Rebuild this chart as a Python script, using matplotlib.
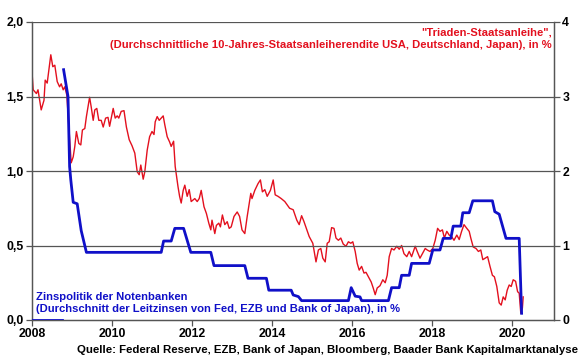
import numpy as np
import matplotlib
matplotlib.use('Agg')
import matplotlib.pyplot as plt
from matplotlib.ticker import FuncFormatter

# Triaden-Staatsanleihe (right axis, %)
bond_t = [2008.0, 2008.03, 2008.11, 2008.15, 2008.23, 2008.3, 2008.33, 2008.38, 2008.47, 2008.52,
          2008.57, 2008.63, 2008.69, 2008.73, 2008.78, 2008.82, 2008.87, 2008.9, 2008.94, 2008.98,
          2009.03, 2009.07, 2009.11, 2009.17, 2009.22, 2009.26, 2009.32, 2009.36, 2009.4, 2009.44,
          2009.48, 2009.53, 2009.57, 2009.62, 2009.67, 2009.73, 2009.78, 2009.84, 2009.9, 2009.94,
          2010.03, 2010.08, 2010.13, 2010.17, 2010.23, 2010.3, 2010.36, 2010.43, 2010.5, 2010.57,
          2010.63, 2010.68, 2010.72, 2010.78, 2010.82, 2010.88, 2010.94, 2011.0, 2011.05, 2011.08,
          2011.13, 2011.18, 2011.23, 2011.28, 2011.32, 2011.38, 2011.44, 2011.48, 2011.54, 2011.58,
          2011.65, 2011.69, 2011.73, 2011.78, 2011.82, 2011.88, 2011.93, 2011.98, 2012.07, 2012.13,
          2012.18, 2012.23, 2012.3, 2012.36, 2012.42, 2012.47, 2012.5, 2012.57, 2012.61, 2012.67,
          2012.71, 2012.76, 2012.82, 2012.88, 2012.93, 2012.98, 2013.05, 2013.13, 2013.19, 2013.25,
          2013.32, 2013.38, 2013.47, 2013.5, 2013.57, 2013.65, 2013.71, 2013.76, 2013.82, 2013.88,
          2013.96, 2014.03, 2014.08, 2014.15, 2014.23, 2014.32, 2014.44, 2014.53, 2014.62, 2014.68,
          2014.74, 2014.8, 2014.87, 2014.93, 2015.02, 2015.1, 2015.16, 2015.22, 2015.27, 2015.33,
          2015.38, 2015.43, 2015.49, 2015.55, 2015.6, 2015.66, 2015.72, 2015.78, 2015.85, 2015.91,
          2015.97, 2016.02, 2016.08, 2016.13, 2016.18, 2016.24, 2016.3, 2016.35, 2016.41, 2016.48,
          2016.53, 2016.58, 2016.63, 2016.7, 2016.77, 2016.83, 2016.88, 2016.93, 2016.99, 2017.05,
          2017.12, 2017.18, 2017.24, 2017.3, 2017.37, 2017.43, 2017.49, 2017.58, 2017.63, 2017.7,
          2017.77, 2017.83, 2017.88, 2017.95, 2018.02, 2018.08, 2018.14, 2018.2, 2018.26, 2018.31,
          2018.37, 2018.43, 2018.49, 2018.55, 2018.62, 2018.68, 2018.74, 2018.8, 2018.87, 2018.93,
          2018.97, 2019.03, 2019.1, 2019.16, 2019.22, 2019.27, 2019.33, 2019.39, 2019.45, 2019.51,
          2019.56, 2019.62, 2019.68, 2019.73, 2019.78, 2019.83, 2019.88, 2019.93, 2019.98, 2020.03,
          2020.09, 2020.14, 2020.18, 2020.22, 2020.26, 2020.28]
bond_v = [3.33, 3.09, 3.04, 3.09, 2.82, 2.95, 3.22, 3.18, 3.56, 3.40,
          3.42, 3.20, 3.13, 3.17, 3.09, 3.13, 3.02, 2.77, 2.42, 2.11,
          2.19, 2.33, 2.53, 2.37, 2.35, 2.55, 2.57, 2.73, 2.86, 2.99,
          2.86, 2.68, 2.82, 2.84, 2.68, 2.68, 2.59, 2.71, 2.72, 2.60,
          2.84, 2.71, 2.74, 2.71, 2.80, 2.81, 2.59, 2.42, 2.34, 2.24,
          1.99, 1.95, 2.08, 1.89, 1.99, 2.28, 2.46, 2.53, 2.49, 2.66,
          2.73, 2.68, 2.71, 2.74, 2.62, 2.46, 2.39, 2.33, 2.40, 2.06,
          1.79, 1.66, 1.57, 1.74, 1.81, 1.66, 1.75, 1.59, 1.63, 1.59,
          1.63, 1.74, 1.52, 1.43, 1.30, 1.21, 1.34, 1.16, 1.27, 1.30,
          1.25, 1.41, 1.28, 1.32, 1.23, 1.25, 1.39, 1.45, 1.39, 1.21,
          1.16, 1.39, 1.70, 1.63, 1.74, 1.83, 1.88, 1.72, 1.75, 1.66,
          1.74, 1.88, 1.68, 1.66, 1.63, 1.59, 1.50, 1.48, 1.34, 1.28,
          1.40, 1.32, 1.21, 1.12, 1.03, 0.78, 0.94, 0.96, 0.83, 0.78,
          1.03, 1.05, 1.24, 1.23, 1.10, 1.07, 1.10, 1.02, 0.99, 1.05,
          1.03, 1.05, 0.92, 0.76, 0.67, 0.72, 0.63, 0.64, 0.58, 0.51,
          0.43, 0.34, 0.43, 0.46, 0.54, 0.50, 0.60, 0.85, 0.96, 0.94,
          0.99, 0.95, 1.00, 0.89, 0.85, 0.92, 0.85, 0.99, 0.92, 0.83,
          0.90, 0.96, 0.94, 0.92, 0.96, 1.07, 1.23, 1.19, 1.21, 1.10,
          1.19, 1.14, 1.12, 1.07, 1.14, 1.08, 1.19, 1.28, 1.23, 1.19,
          1.10, 0.98, 0.96, 0.92, 0.94, 0.81, 0.83, 0.85, 0.72, 0.60,
          0.58, 0.45, 0.23, 0.20, 0.31, 0.27, 0.40, 0.47, 0.45, 0.54,
          0.52, 0.38, 0.36, 0.09, 0.16, 0.31]

# Leitzinsen-Durchschnitt (left axis, %)
rate_t = [2008.79, 2008.9, 2008.94, 2008.97, 2009.03, 2009.13, 2009.23, 2009.36, 2011.23, 2011.29,
          2011.48, 2011.57, 2011.79, 2011.97, 2012.47, 2012.55, 2013.32, 2013.4, 2013.86, 2013.92,
          2014.48, 2014.53, 2014.66, 2014.74, 2015.91, 2015.98, 2016.08, 2016.2, 2016.24, 2016.91,
          2016.99, 2017.18, 2017.24, 2017.43, 2017.49, 2017.93, 2018.02, 2018.2, 2018.28, 2018.47,
          2018.53, 2018.72, 2018.77, 2018.93, 2019.02, 2019.51, 2019.57, 2019.68, 2019.85, 2020.18,
          2020.24]
rate_v = [1.68, 1.50, 1.03, 0.94, 0.79, 0.78, 0.60, 0.454, 0.454, 0.53,
          0.53, 0.615, 0.615, 0.454, 0.454, 0.365, 0.365, 0.28, 0.28, 0.20,
          0.20, 0.168, 0.157, 0.13, 0.13, 0.217, 0.16, 0.155, 0.13, 0.13,
          0.217, 0.217, 0.30, 0.30, 0.38, 0.38, 0.47, 0.47, 0.548, 0.548,
          0.63, 0.63, 0.72, 0.72, 0.80, 0.80, 0.727, 0.71, 0.548, 0.548,
          0.045]
rate_gap_t = [2008.0, 2008.75]
rate_gap_v = [0.0, 0.0]

left_ticks = [0.0, 0.5, 1.0, 1.5, 2.0]
right_ticks = [0, 1, 2, 3, 4]
year_ticks = [2008, 2010, 2012, 2014, 2016, 2018, 2020]

RED = '#e3101e'
BLUE = '#1010c8'
FONT = 'Liberation Sans'

fig = plt.figure(figsize=(5.8, 3.59), dpi=100)
ax = fig.add_axes([32 / 580, 39 / 359, 522 / 580, 298 / 359])
ax2 = ax.twinx()

ax.set_xlim(2008, 2021.05)
ax.set_ylim(0, 2)
ax2.set_ylim(0, 4)

for y in left_ticks[1:]:
    ax.axhline(y, color='#555555', linewidth=0.9, zorder=0)

ax2.plot(bond_t, bond_v, color=RED, linewidth=1.0, zorder=2)
ax.plot(rate_t, rate_v, color=BLUE, linewidth=2.0, zorder=3)
ax.plot(rate_gap_t, rate_gap_v, color=BLUE, linewidth=2.0, zorder=3)
ax.set_zorder(ax2.get_zorder() + 1)
ax.patch.set_visible(False)

ax.set_yticks(left_ticks)
ax.yaxis.set_major_formatter(FuncFormatter(lambda v, p: f'{v:.1f}'.replace('.', ',')))
ax2.set_yticks(right_ticks)
ax.set_xticks(year_ticks)

for a in (ax, ax2):
    a.spines['top'].set_visible(False)
    for s in ('left', 'right', 'bottom'):
        a.spines[s].set_color('#555555')
        a.spines[s].set_linewidth(0.9)
    a.tick_params(length=4, width=0.9, color='#555555', pad=2, labelsize=8.8)
    for lab in a.get_xticklabels() + a.get_yticklabels():
        lab.set_fontfamily(FONT)
        lab.set_fontweight('bold')

ax.text(0.996, 0.9446, '"Triaden-Staatsanleihe",\n(Durchschnittliche 10-Jahres-Staatsanleiherendite USA, Deutschland, Japan), in %',
        transform=ax.transAxes, ha='right', va='center', color=RED, fontsize=8.1,
        fontweight='bold', family=FONT, linespacing=1.27)
ax.text(0.008, 0.056, 'Zinspolitik der Notenbanken\n(Durchschnitt der Leitzinsen von Fed, EZB und Bank of Japan), in %',
        transform=ax.transAxes, ha='left', va='center', color=BLUE, fontsize=8.1,
        fontweight='bold', family=FONT, linespacing=1.27)
fig.text(0.997, 0.012, 'Quelle: Federal Reserve, EZB, Bank of Japan, Bloomberg, Baader Bank Kapitalmarktanalyse',
         ha='right', va='bottom', color='black', fontsize=8.2, fontweight='bold', family=FONT)

fig.savefig('out.png', dpi=100)
